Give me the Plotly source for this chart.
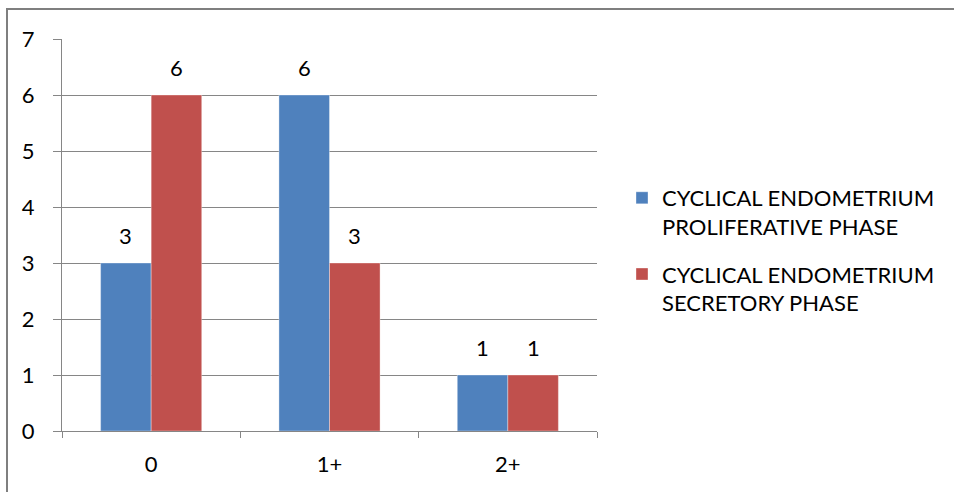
import plotly.graph_objects as go

categories = ["0", "1+", "2+"]
proliferative = [3, 6, 1]
secretory = [6, 3, 1]
series_names = ["CYCLICAL ENDOMETRIUM<br>PROLIFERATIVE PHASE",
                "CYCLICAL ENDOMETRIUM<br>SECRETORY PHASE"]
y_ticks = [0, 1, 2, 3, 4, 5, 6, 7]

FONT = "Lato"
FS = 22
GRID = "#868686"
colors = ["#4F81BD", "#C0504D"]

L, R, T, B = 62, 597, 39, 431
W, H = 954, 492
bargap = 0.433
cat_px = (R - L) / len(categories)
bar_px = cat_px * (1 - bargap) / 2

fig = go.Figure()
for i, (name, vals) in enumerate([(series_names[0], proliferative),
                                  (series_names[1], secretory)]):
    fig.add_trace(go.Bar(
        x=categories, y=vals, name=name, legendgroup=f"g{i}",
        marker=dict(color=colors[i], line=dict(color="rgba(255,255,255,0.35)", width=1)),
    ))
    for c, v in zip(categories, vals):
        fig.add_annotation(x=c, y=v, text=str(v), showarrow=False,
                           xshift=(i - 0.5) * bar_px, yshift=28,
                           font=dict(family=FONT, size=FS, color="#000"))

fig.update_layout(
    width=W, height=H,
    margin=dict(l=L, r=W - R, t=T, b=H - B),
    paper_bgcolor="white", plot_bgcolor="white",
    barmode="group", bargap=bargap, bargroupgap=0,
    font=dict(family=FONT, size=FS, color="#000"),
    legend=dict(x=(622 - L) / (R - L), y=1 - (177 - T) / (B - T),
                xanchor="left", yanchor="top",
                font=dict(family=FONT, size=FS, color="#000"),
                valign="top", tracegroupgap=16, itemwidth=30),
    xaxis=dict(showline=True, linecolor=GRID, linewidth=1,
               ticks="outside", tickson="boundaries", ticklen=6, tickcolor=GRID,
               ticklabelstandoff=14, showgrid=False),
    yaxis=dict(range=[0, 7], tickvals=y_ticks, showline=True, linecolor=GRID, linewidth=1,
               ticks="outside", ticklen=8, tickcolor=GRID,
               showgrid=True, gridcolor=GRID, gridwidth=1,
               ticklabelstandoff=14, zeroline=False),
)
fig.add_shape(type="rect", xref="paper", yref="paper",
              x0=(7 - L) / (R - L), x1=(W + 5 - L) / (R - L),
              y0=-(H + 5 - B) / (B - T), y1=1 + (T - 9) / (B - T),
              line=dict(color="#7f7f7f", width=2), fillcolor="rgba(0,0,0,0)", layer="below")
fig.write_html("out.html")
